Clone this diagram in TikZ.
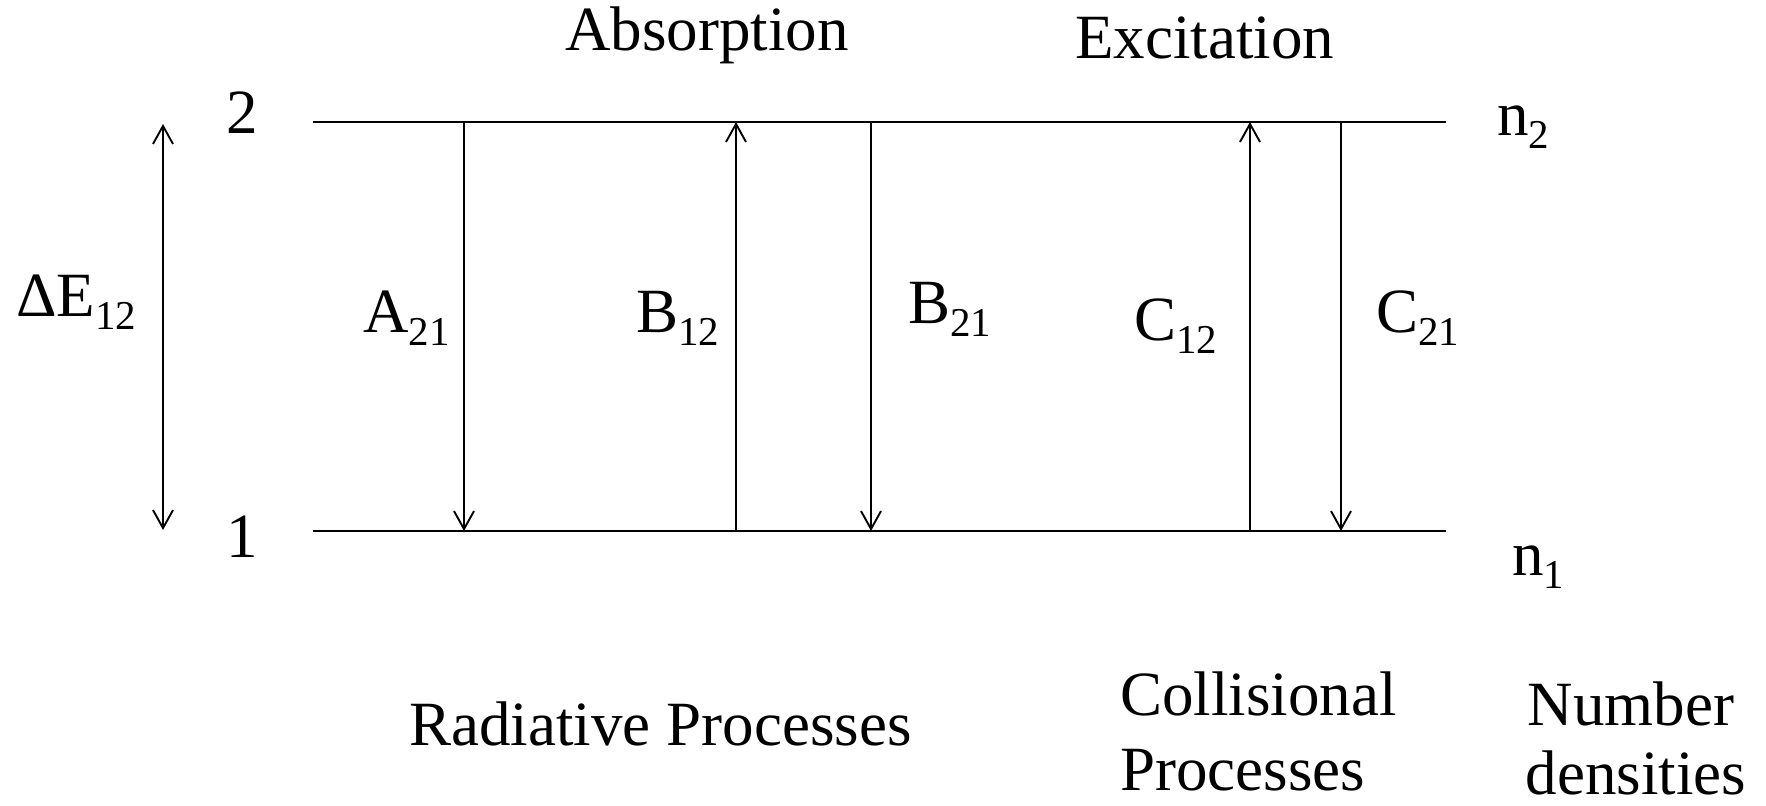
\documentclass[tikz,border=0pt]{standalone}
\usepackage{fontspec}
\setmainfont{Liberation Serif}
\usepackage{tikz}
\usetikzlibrary{arrows.meta}
\newcommand{\lvsub}[1]{\raisebox{-6.5pt}{\fontsize{20.5}{21}\selectfont #1}}

\begin{document}
\begin{tikzpicture}[
			x=0.5pt, y=-0.5pt,
			level/.style={line width=1.2pt, black},
			trans/.style={line width=0.95pt, -{Straight Barb[length=9pt, width=10pt]}},
			lbl/.style={inner sep=0pt, anchor=base west, font=\fontsize{31.5}{34}\selectfont}
			]
			\useasboundingbox (0,0) rectangle (1766,805);
			
			% energy levels
			\coordinate (l2w) at (313,122);
			\coordinate (l2e) at (1446,122);
			\coordinate (l1w) at (313,531);
			\coordinate (l1e) at (1446,531);
			\draw[level] (l2w) -- (l2e);
			\draw[level] (l1w) -- (l1e);
			
			\node[lbl, anchor=base] (two) at (242,133) {2};
			\node[lbl, anchor=base] (one) at (242,557) {1};
			\node[lbl] (ntwo) at (1497,135) {n\lvsub{2}};
			\node[lbl] (none) at (1512,575) {n\lvsub{1}};
			
			% energy gap
			\coordinate (de2) at (163,124);
			\coordinate (de1) at (163,530);
			\draw[trans, {Straight Barb[length=9pt, width=10pt]}-{Straight Barb[length=9pt, width=10pt]}] (de2) -- (de1);
			\node[lbl] (dE) at (16,316) {ΔE\lvsub{12}};
			
			% radiative processes
			\coordinate (a2) at (464,122);
			\coordinate (a1) at (464,531);
			\coordinate (b12t) at (736,122);
			\coordinate (b12b) at (736,531);
			\coordinate (b21t) at (871,122);
			\coordinate (b21b) at (871,531);
			\draw[trans] (a2) -- (a1);
			\draw[trans] (b12b) -- (b12t);
			\draw[trans] (b21t) -- (b21b);
			\node[lbl] (A21) at (363,332) {A\lvsub{21}};
			\node[lbl] (B12) at (636,332) {B\lvsub{12}};
			\node[lbl] (B21) at (908,323) {B\lvsub{21}};
			
			% collisional processes
			\coordinate (c12t) at (1250,122);
			\coordinate (c12b) at (1250,531);
			\coordinate (c21t) at (1341,122);
			\coordinate (c21b) at (1341,531);
			\draw[trans] (c12b) -- (c12t);
			\draw[trans] (c21t) -- (c21b);
			\node[lbl] (C12) at (1134,340) {C\lvsub{12}};
			\node[lbl] (C21) at (1376,332) {C\lvsub{21}};
			
			% headings
			\node[lbl] (absorp) at (565,50) {Absorption};
			\node[lbl] (excit) at (1075,58) {Excitation};
			\node[lbl] (radproc) at (409,745) {Radiative Processes};
			\node[lbl] (coll) at (1120,715) {Collisional};
			\node[lbl] (collproc) at (1120,790) {Processes};
			\node[lbl, anchor=base] (numb) at (1631,725) {Number};
			\node[lbl, anchor=base] (dens) at (1636,794) {densities};
			
		\end{tikzpicture}
\end{document}
